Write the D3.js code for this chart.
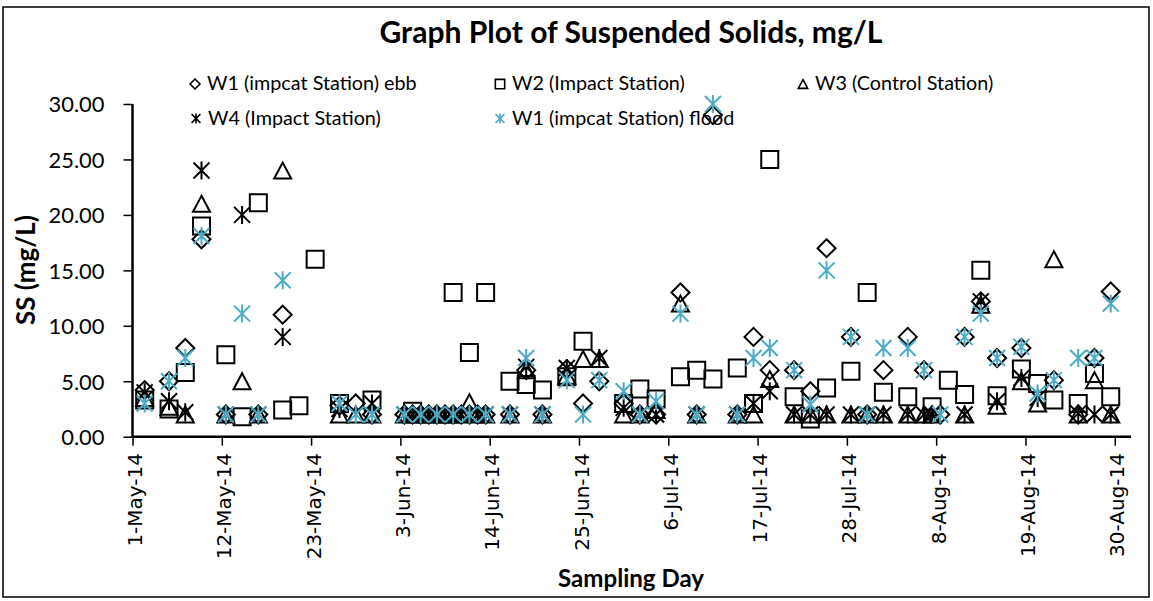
<!DOCTYPE html>
<html><head><meta charset="utf-8">
<script src="https://cdn.jsdelivr.net/npm/d3@7"></script>
<style>body{margin:0;background:#fff}</style>
</head><body>
<svg id="chart" width="1153" height="601"></svg>
<script>
// ---------- DATA ----------
const chartTitle = "Graph Plot of Suspended Solids, mg/L";
const xTitle = "Sampling Day";
const yTitle = "SS (mg/L)";
const yTicks = [0, 5, 10, 15, 20, 25, 30];
const xTickLabels = ["1-May-14","12-May-14","23-May-14","3-Jun-14","14-Jun-14","25-Jun-14","6-Jul-14","17-Jul-14","28-Jul-14","8-Aug-14","19-Aug-14","30-Aug-14"];
const seriesNames = ["W1 (impcat Station) ebb","W2 (Impact Station)","W3 (Control Station)","W4 (Impact Station)","W1 (impcat Station) flood"];

const dates = ["2014-05-02","2014-05-05","2014-05-07","2014-05-09","2014-05-12","2014-05-14","2014-05-16","2014-05-19","2014-05-21","2014-05-23",
"2014-05-26","2014-05-28","2014-05-30","2014-06-03","2014-06-04","2014-06-05","2014-06-06","2014-06-07","2014-06-08","2014-06-09",
"2014-06-10","2014-06-11","2014-06-12","2014-06-13","2014-06-16","2014-06-18","2014-06-20","2014-06-23","2014-06-25","2014-06-27",
"2014-06-30","2014-07-02","2014-07-04","2014-07-07","2014-07-09","2014-07-11","2014-07-14","2014-07-16","2014-07-18","2014-07-21",
"2014-07-23","2014-07-25","2014-07-28","2014-07-30","2014-08-01","2014-08-04","2014-08-06","2014-08-07","2014-08-08","2014-08-09",
"2014-08-11","2014-08-13","2014-08-15","2014-08-18","2014-08-20","2014-08-22","2014-08-25","2014-08-27","2014-08-29"];

const w1Ebb = [4.2,5.0,8.0,17.8,2.0,null,2.0,11.0,null,null,
2.8,3.0,2.0,2.0,2.0,2.0,2.0,2.0,2.0,2.0,
2.0,2.0,2.0,2.0,2.0,6.0,2.0,6.1,3.0,5.0,
3.0,2.0,2.0,13.0,2.0,29.0,2.0,9.0,6.0,6.0,
4.1,17.0,9.0,2.0,6.0,9.0,6.0,null,2.0,null,
9.0,12.2,7.1,8.0,null,5.1,2.0,7.1,13.1];

const w2 = [3.3,2.5,5.8,19.0,7.4,1.8,21.1,2.4,2.8,16.0,
3.0,null,3.3,null,2.3,null,null,null,null,13.0,
null,7.6,null,13.0,5.0,4.7,4.2,5.4,8.6,null,
3.0,4.3,3.4,5.4,6.0,5.2,6.2,3.0,25.0,3.6,
1.6,4.4,5.9,13.0,4.0,3.6,null,2.7,null,5.1,
3.8,15.0,3.7,6.1,4.8,3.3,3.0,5.7,3.6];

const w3 = [3.5,2.7,2.0,21.0,2.0,5.0,2.0,24.0,null,null,
2.0,2.0,2.0,2.0,2.0,2.0,2.0,2.0,2.0,2.0,
2.0,3.1,2.0,2.0,2.0,6.0,2.0,5.5,7.0,7.0,
2.0,2.0,2.4,12.0,2.0,null,2.0,2.0,5.2,2.0,
2.0,2.0,2.0,2.0,2.0,2.0,2.0,2.0,null,null,
2.0,11.9,2.8,5.0,3.0,16.0,2.0,5.1,2.0];

const w4 = [4.0,3.2,2.2,24.0,2.0,20.0,2.0,9.0,null,null,
2.5,null,3.0,2.0,2.0,2.0,2.0,2.0,2.0,2.0,
2.0,2.0,2.0,2.0,2.0,6.3,2.0,6.2,null,7.1,
2.6,2.0,2.0,null,2.0,null,2.0,3.0,4.1,2.0,
2.0,2.0,2.0,2.0,2.0,2.0,2.0,2.0,null,null,
2.0,12.2,3.2,5.3,3.5,null,2.1,2.0,2.0];

const w1Flood = [3.0,5.0,7.1,18.1,2.0,11.1,2.0,14.1,null,null,
3.0,2.0,2.0,2.0,null,2.0,null,2.0,null,2.0,
null,2.0,null,2.0,2.0,7.1,2.0,5.1,2.0,5.1,
4.1,2.0,3.2,11.1,2.0,30.0,2.0,7.1,8.0,6.0,
2.9,15.0,9.0,2.0,8.0,8.0,6.0,null,2.0,null,
9.0,11.1,7.1,8.1,3.9,5.1,7.1,7.1,12.0];

// ---------- LAYOUT ----------
const svg = d3.select("#chart");
const parseDate = d3.timeParse("%Y-%m-%d");
const parseTick = d3.timeParse("%d-%b-%y");
const L = 132.5, R = 1131, T = 104, B = 436.7;
const BLUE = "#4BACC6";

const x = d3.scaleTime()
  .domain([new Date(2014, 4, 1), new Date(2014, 8, 1)])
  .range([L, R]);
const y = d3.scaleLinear().domain([0, 30]).range([B, T]);
const mid = d => d3.timeHour.offset(d, 12);

svg.append("rect").attr("x", 3).attr("y", 7).attr("width", 1146).attr("height", 590)
  .attr("fill", "#fff").attr("stroke", "#000").attr("stroke-width", 1.5);

function fitWidth(sel, target) {
  const w = sel.node().getComputedTextLength();
  const fs = parseFloat(sel.attr("font-size"));
  sel.attr("font-size", fs * target / w);
  return sel;
}

const calibri = "Lato, 'Open Sans', sans-serif";

// Title
const title = svg.append("text").attr("x", 631).attr("y", 43)
  .attr("text-anchor", "middle").attr("font-family", calibri).attr("font-weight", "bold")
  .attr("font-size", 26).attr("fill", "#000").text(chartTitle);
fitWidth(title, 503);

// Y axis
const yAxis = d3.axisLeft(y).tickValues(yTicks).tickFormat(d3.format(".2f")).tickSize(9).tickPadding(19);
const yg = svg.append("g").attr("transform", `translate(${L},0)`).call(yAxis);
yg.select(".domain").attr("stroke", "#000").attr("stroke-width", 2.5).attr("d", `M0,${T}V${B}`);
yg.selectAll(".tick line").attr("stroke", "#000").attr("stroke-width", 1.5);
yg.selectAll(".tick text").attr("font-family", calibri).attr("font-size", 22).attr("fill", "#000").attr("dy", "0.36em");
(function(){
  const t = yg.selectAll(".tick text").filter(d => d === 30);
  const w = t.node().getComputedTextLength();
  yg.selectAll(".tick text").attr("font-size", 22 * 56 / w);
})();

// X axis
const tickDates = xTickLabels.map(parseTick);
const xAxis = d3.axisBottom(x).tickValues(tickDates).tickFormat("").tickSize(9);
const xg = svg.append("g").attr("transform", `translate(0,${B})`).call(xAxis);
xg.select(".domain").attr("stroke", "#000").attr("stroke-width", 2.5).attr("d", `M${L},0H${R}`);
xg.selectAll(".tick line").attr("stroke", "#000").attr("stroke-width", 1.5);

svg.append("g").selectAll("text").data(xTickLabels).join("text")
  .attr("transform", (d, i) => `translate(${x(mid(tickDates[i])) + 5.5},453) rotate(-90)`)
  .attr("text-anchor", "end")
  .attr("font-family", "'DejaVu Sans', Verdana, sans-serif").attr("font-size", 20)
  .attr("fill", "#000").text(d => d);

// Axis titles
const xt = svg.append("text").attr("x", 631).attr("y", 587).attr("text-anchor", "middle")
  .attr("font-family", calibri).attr("font-weight", "bold").attr("font-size", 22).attr("fill", "#000").text(xTitle);
fitWidth(xt, 146);
const yt = svg.append("text").attr("transform", "translate(35,270) rotate(-90)").attr("text-anchor", "middle")
  .attr("font-family", calibri).attr("font-weight", "bold").attr("font-size", 22).attr("fill", "#000").text(yTitle);
fitWidth(yt, 110);

// ---------- MARKERS ----------
const shapes = {
  diamond: s => `M0,${-9*s}L${9*s},0L0,${9*s}L${-9*s},0Z`,
  square: s => `M${-8.5*s},${-8.5*s}H${8.5*s}V${8.5*s}H${-8.5*s}Z`,
  triangle: s => `M0,${-8*s}L${8.5*s},${8*s}L${-8.5*s},${8*s}Z`,
  star: s => `M${-8*s},${-8*s}L${8*s},${8*s}M${-8*s},${8*s}L${8*s},${-8*s}M0,${-9*s}V${9*s}`
};

const series = [
  {name: seriesNames[0], values: w1Ebb, shape: "diamond", color: "#000"},
  {name: seriesNames[1], values: w2, shape: "square", color: "#000"},
  {name: seriesNames[2], values: w3, shape: "triangle", color: "#000"},
  {name: seriesNames[3], values: w4, shape: "star", color: "#000"},
  {name: seriesNames[4], values: w1Flood, shape: "star", color: BLUE}
];

const parsedDates = dates.map(parseDate);
series.forEach(s => {
  const pts = s.values.map((v, i) => ({d: parsedDates[i], v})).filter(p => p.v != null);
  svg.append("g").selectAll("path").data(pts).join("path")
    .attr("transform", p => `translate(${x(mid(p.d))},${y(p.v)})`)
    .attr("d", shapes[s.shape](1))
    .attr("fill", "none").attr("stroke", s.color).attr("stroke-width", 2);
});

// ---------- LEGEND ----------
const legendPos = [[195, 84], [500, 84], [803, 84], [196, 118.5], [500, 118.5]];
const lg = svg.append("g");
let legendTexts = [];
series.forEach((s, i) => {
  const [lx, ly] = legendPos[i];
  lg.append("path").attr("transform", `translate(${lx},${ly})`).attr("d", shapes[s.shape](0.55))
    .attr("fill", "none").attr("stroke", s.color).attr("stroke-width", 1.6);
  const t = lg.append("text").attr("x", lx + 12).attr("y", ly + 6)
    .attr("font-family", calibri).attr("font-size", 18).attr("fill", "#000").text(s.name);
  legendTexts.push(t);
});
(function(){
  const w = legendTexts[1].node().getComputedTextLength();
  const fs = 18 * 173 / w;
  legendTexts.forEach(t => t.attr("font-size", fs));
})();
</script>
</body></html>
